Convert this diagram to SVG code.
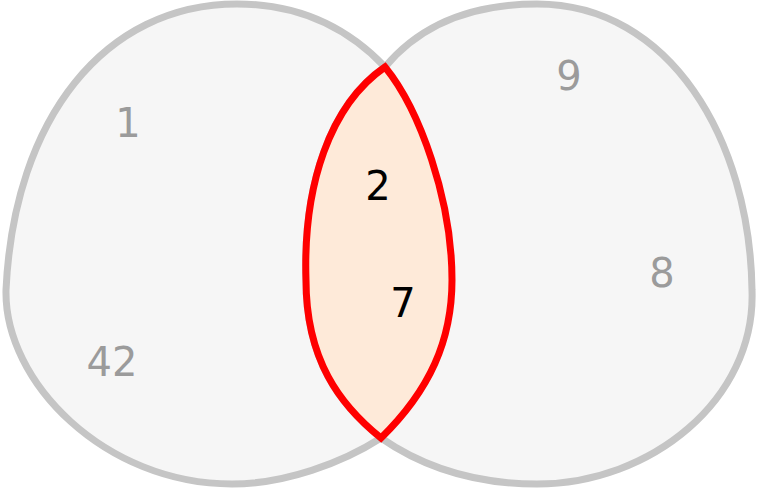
<svg xmlns="http://www.w3.org/2000/svg" width="757" height="490" viewBox="0 0 757 490">
<style>
.set{fill:#f6f6f6;stroke:#c5c5c5;stroke-width:7}
.lens{fill:#feead9;stroke:#ff0000;stroke-width:7;stroke-linejoin:miter;stroke-miterlimit:10}
text{font-family:"DejaVu Sans",sans-serif;font-size:40px;text-anchor:middle}
.g{fill:#9b9b9b}
.k{fill:#000000}
</style>
<rect width="757" height="490" fill="#ffffff"/>
<g id="setA">
<path class="set" d="M 237 4 C 105 4, 14 118, 6 290 C 4 382, 105 484, 232 484 C 285 484, 342 463, 381 438 C 430 390, 452 340, 452 280 C 452 200, 420 110, 385 67 C 345 25, 295 4, 237 4 Z"/>
</g>
<g id="setB">
<path class="set" d="M 537 4 C 670 4, 750 140, 752 290 C 756 400, 650 484, 537 484 C 470 484, 420 465, 381 438 C 340 405, 306 360, 306 280 C 303 185, 330 105, 385 67 C 420 25, 470 4, 537 4 Z"/>
</g>
<g id="intersection">
<path class="lens" d="M 385 67 C 420 110, 452 200, 452 280 C 452 340, 430 390, 381 438 C 340 405, 306 360, 306 280 C 303 185, 330 105, 385 67 Z"/>
</g>
<g id="labels">
<text class="g" x="128" y="137">1</text>
<text class="g" x="112" y="376">42</text>
<text class="g" x="569" y="90">9</text>
<text class="g" x="662" y="287">8</text>
<text class="k" x="378" y="200">2</text>
<text class="k" x="403" y="317">7</text>
</g>
</svg>
